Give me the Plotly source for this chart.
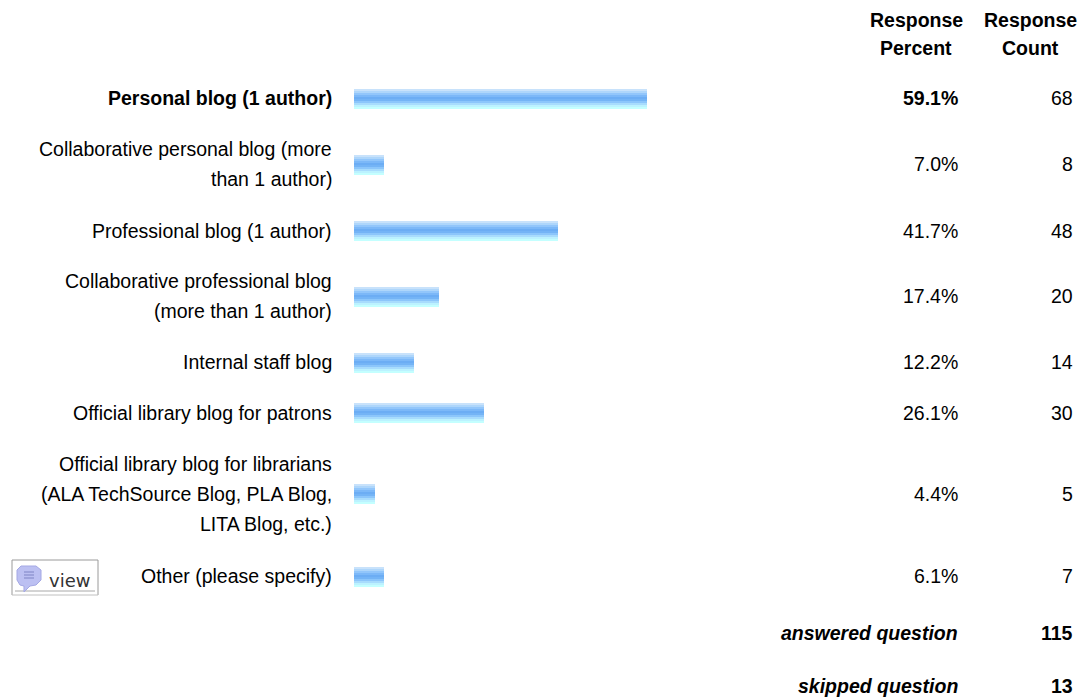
import plotly.graph_objects as go

W, H = 1079, 700
FONT = "Liberation Sans, Arial, sans-serif"

# ---- data ----
label_lines = [
    ["Personal blog (1 author)"],
    ["Collaborative personal blog (more", "than 1 author)"],
    ["Professional blog (1 author)"],
    ["Collaborative professional blog", "(more than 1 author)"],
    ["Internal staff blog"],
    ["Official library blog for patrons"],
    ["Official library blog for librarians", "(ALA TechSource Blog, PLA Blog,", "LITA Blog, etc.)"],
    ["Other (please specify)"],
]
percent_labels = ["59.1%", "7.0%", "41.7%", "17.4%", "12.2%", "26.1%", "4.4%", "6.1%"]
counts = [68, 8, 48, 20, 14, 30, 5, 7]
# bar lengths as drawn in the picture (percent units)
bar_lengths = [59.1, 6.05, 41.1, 17.1, 12.1, 26.2, 4.2, 6.05]
answered = 115
skipped = 13

# ---- layout helpers (pixel positions of the table rows) ----
row_y = [99, 165, 231, 297, 363, 413, 494, 577]
text_y = [98, 164, 231, 296, 362, 413, 494, 576]
PX_PER_PCT = 4.96
BAR_X0 = 354
LINE_GAP = 30
FS = 19.5
band_colors = ["#c8e2fb", "#aed6fb", "#92c6fb", "#7cb8f8", "#6cadf4",
               "#74b4f6", "#8cc6fb", "#a8dcfd", "#bcf2ff", "#c4ffff"]
BAND_H = 2

fig = go.Figure()
for i, col in enumerate(band_colors):
    fig.add_trace(go.Bar(
        orientation="h", x=bar_lengths, y=row_y, width=BAND_H,
        offset=-10 + i * BAND_H, marker=dict(color=col, line=dict(width=0)),
        hoverinfo="skip", showlegend=False))


def note(px, py, text, anchor="right", size=FS, bold=False, italic=False, color="#000", font=FONT):
    if bold:
        text = f"<b>{text}</b>"
    if italic:
        text = f"<i>{text}</i>"
    fig.add_annotation(x=px / W, xref="paper", y=py, yref="y", text=text, showarrow=False,
                       xanchor=anchor, yanchor="middle", xshift=2 if anchor == "right" else 0,
                       align=anchor, font=dict(family=font, size=size, color=color))


for i, lines in enumerate(label_lines):
    first = text_y[i] - (len(lines) - 1) * LINE_GAP / 2
    for j, line in enumerate(lines):
        note(332, first + j * LINE_GAP, line, bold=(i == 0))
    note(958, text_y[i], percent_labels[i], bold=(i == 0))
    note(1073, text_y[i], str(counts[i]))

note(916, 20, "Response", "center", bold=True)
note(916, 48, "Percent", "center", bold=True)
note(1030, 20, "Response", "center", bold=True)
note(1030, 48, "Count", "center", bold=True)
note(958, 633, "answered question", bold=True, italic=True)
note(1073, 633, str(answered), bold=True)
note(958, 686, "skipped question", bold=True, italic=True)
note(1073, 686, str(skipped), bold=True)

# "view" button
note(69, 580, "view", "center", size=18, color="#333", font="DejaVu Sans, sans-serif")


def pline(x0, y0, x1, y1, color):
    fig.add_shape(type="line", xref="paper", yref="y", x0=x0 / W, x1=x1 / W, y0=y0, y1=y1,
                  line=dict(color=color, width=1))


pline(12, 560, 98, 560, "#9a9a9a")
pline(12, 560, 12, 595, "#9a9a9a")
pline(98, 560, 98, 595, "#9a9a9a")
pline(12, 595, 98, 595, "#c0c0c0")
pline(15, 591, 95, 591, "#a8a8a8")
bubble = [(21, 566), (36, 566), (41, 570), (41, 580), (36, 585), (30, 586), (24, 592), (24, 586), (20, 585), (17, 580), (17, 570)]
path = "M " + " L ".join(f"{x / W:.5f},{y}" for x, y in bubble) + " Z"
fig.add_shape(type="path", xref="paper", yref="y", path=path, fillcolor="#bcc0f2",
              line=dict(color="#a4a8e4", width=1))
for yy in (572, 575, 578):
    pline(24, yy, 34, yy, "#7f84c4")

fig.update_layout(
    width=W, height=H, margin=dict(l=0, r=0, t=0, b=0),
    paper_bgcolor="#fff", plot_bgcolor="#fff", barmode="overlay", bargap=0,
    xaxis=dict(range=[-BAR_X0 / PX_PER_PCT, (W - BAR_X0) / PX_PER_PCT], visible=False, fixedrange=True),
    yaxis=dict(range=[H, 0], visible=False, fixedrange=True),
)
fig.write_html("out.html", config={"displayModeBar": False},
               post_script="document.body.style.margin='0';document.documentElement.style.overflow='hidden';")
